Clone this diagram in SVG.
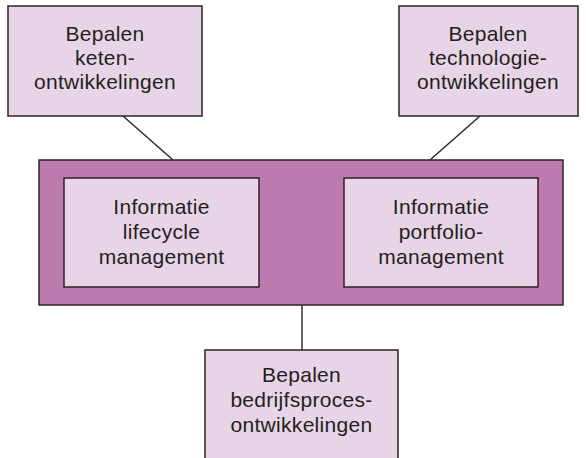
<svg xmlns="http://www.w3.org/2000/svg" width="586" height="458" viewBox="0 0 586 458">
  <style>
    .box { fill: #e8d4e7; stroke: #2e2226; stroke-width: 1.5; }
    .frame { fill: #bd7aae; stroke: #2e2226; stroke-width: 1.5; }
    .link { stroke: #2e2226; stroke-width: 1.4; fill: none; }
    .lbl { font-family: "Liberation Sans", Arial, Helvetica, sans-serif; font-size: 21px; fill: #231f20; text-anchor: middle; letter-spacing: 0.3px; }
  </style>
  <rect width="586" height="458" fill="#ffffff"/>

  <g id="connectors">
    <line class="link" x1="123" y1="116" x2="173" y2="160"/>
    <line class="link" x1="480" y1="116" x2="430" y2="160"/>
    <line class="link" x1="302" y1="305" x2="302" y2="350"/>
  </g>

  <g id="keten">
    <rect class="box" x="8" y="6" width="194" height="110"/>
    <text class="lbl" x="105" y="41">Bepalen</text>
    <text class="lbl" x="105" y="65">keten-</text>
    <text class="lbl" x="105" y="89">ontwikkelingen</text>
  </g>

  <g id="technologie">
    <rect class="box" x="399" y="6" width="179" height="110"/>
    <text class="lbl" x="488" y="41">Bepalen</text>
    <text class="lbl" x="488" y="65">technologie-</text>
    <text class="lbl" x="488" y="89">ontwikkelingen</text>
  </g>

  <g id="informatiemanagement">
    <rect class="frame" x="39" y="160" width="524" height="145"/>
    <g id="lifecycle">
      <rect class="box" x="64" y="178" width="195" height="109"/>
      <text class="lbl" x="161.5" y="214">Informatie</text>
      <text class="lbl" x="161.5" y="239">lifecycle</text>
      <text class="lbl" x="161.5" y="264">management</text>
    </g>
    <g id="portfolio">
      <rect class="box" x="344" y="178" width="194" height="109"/>
      <text class="lbl" x="441" y="214">Informatie</text>
      <text class="lbl" x="441" y="239">portfolio-</text>
      <text class="lbl" x="441" y="264">management</text>
    </g>
  </g>

  <g id="bedrijfsproces">
    <rect class="box" x="205" y="350" width="193" height="120"/>
    <text class="lbl" x="301.5" y="382">Bepalen</text>
    <text class="lbl" x="301.5" y="407">bedrijfsproces-</text>
    <text class="lbl" x="301.5" y="432">ontwikkelingen</text>
  </g>
</svg>
